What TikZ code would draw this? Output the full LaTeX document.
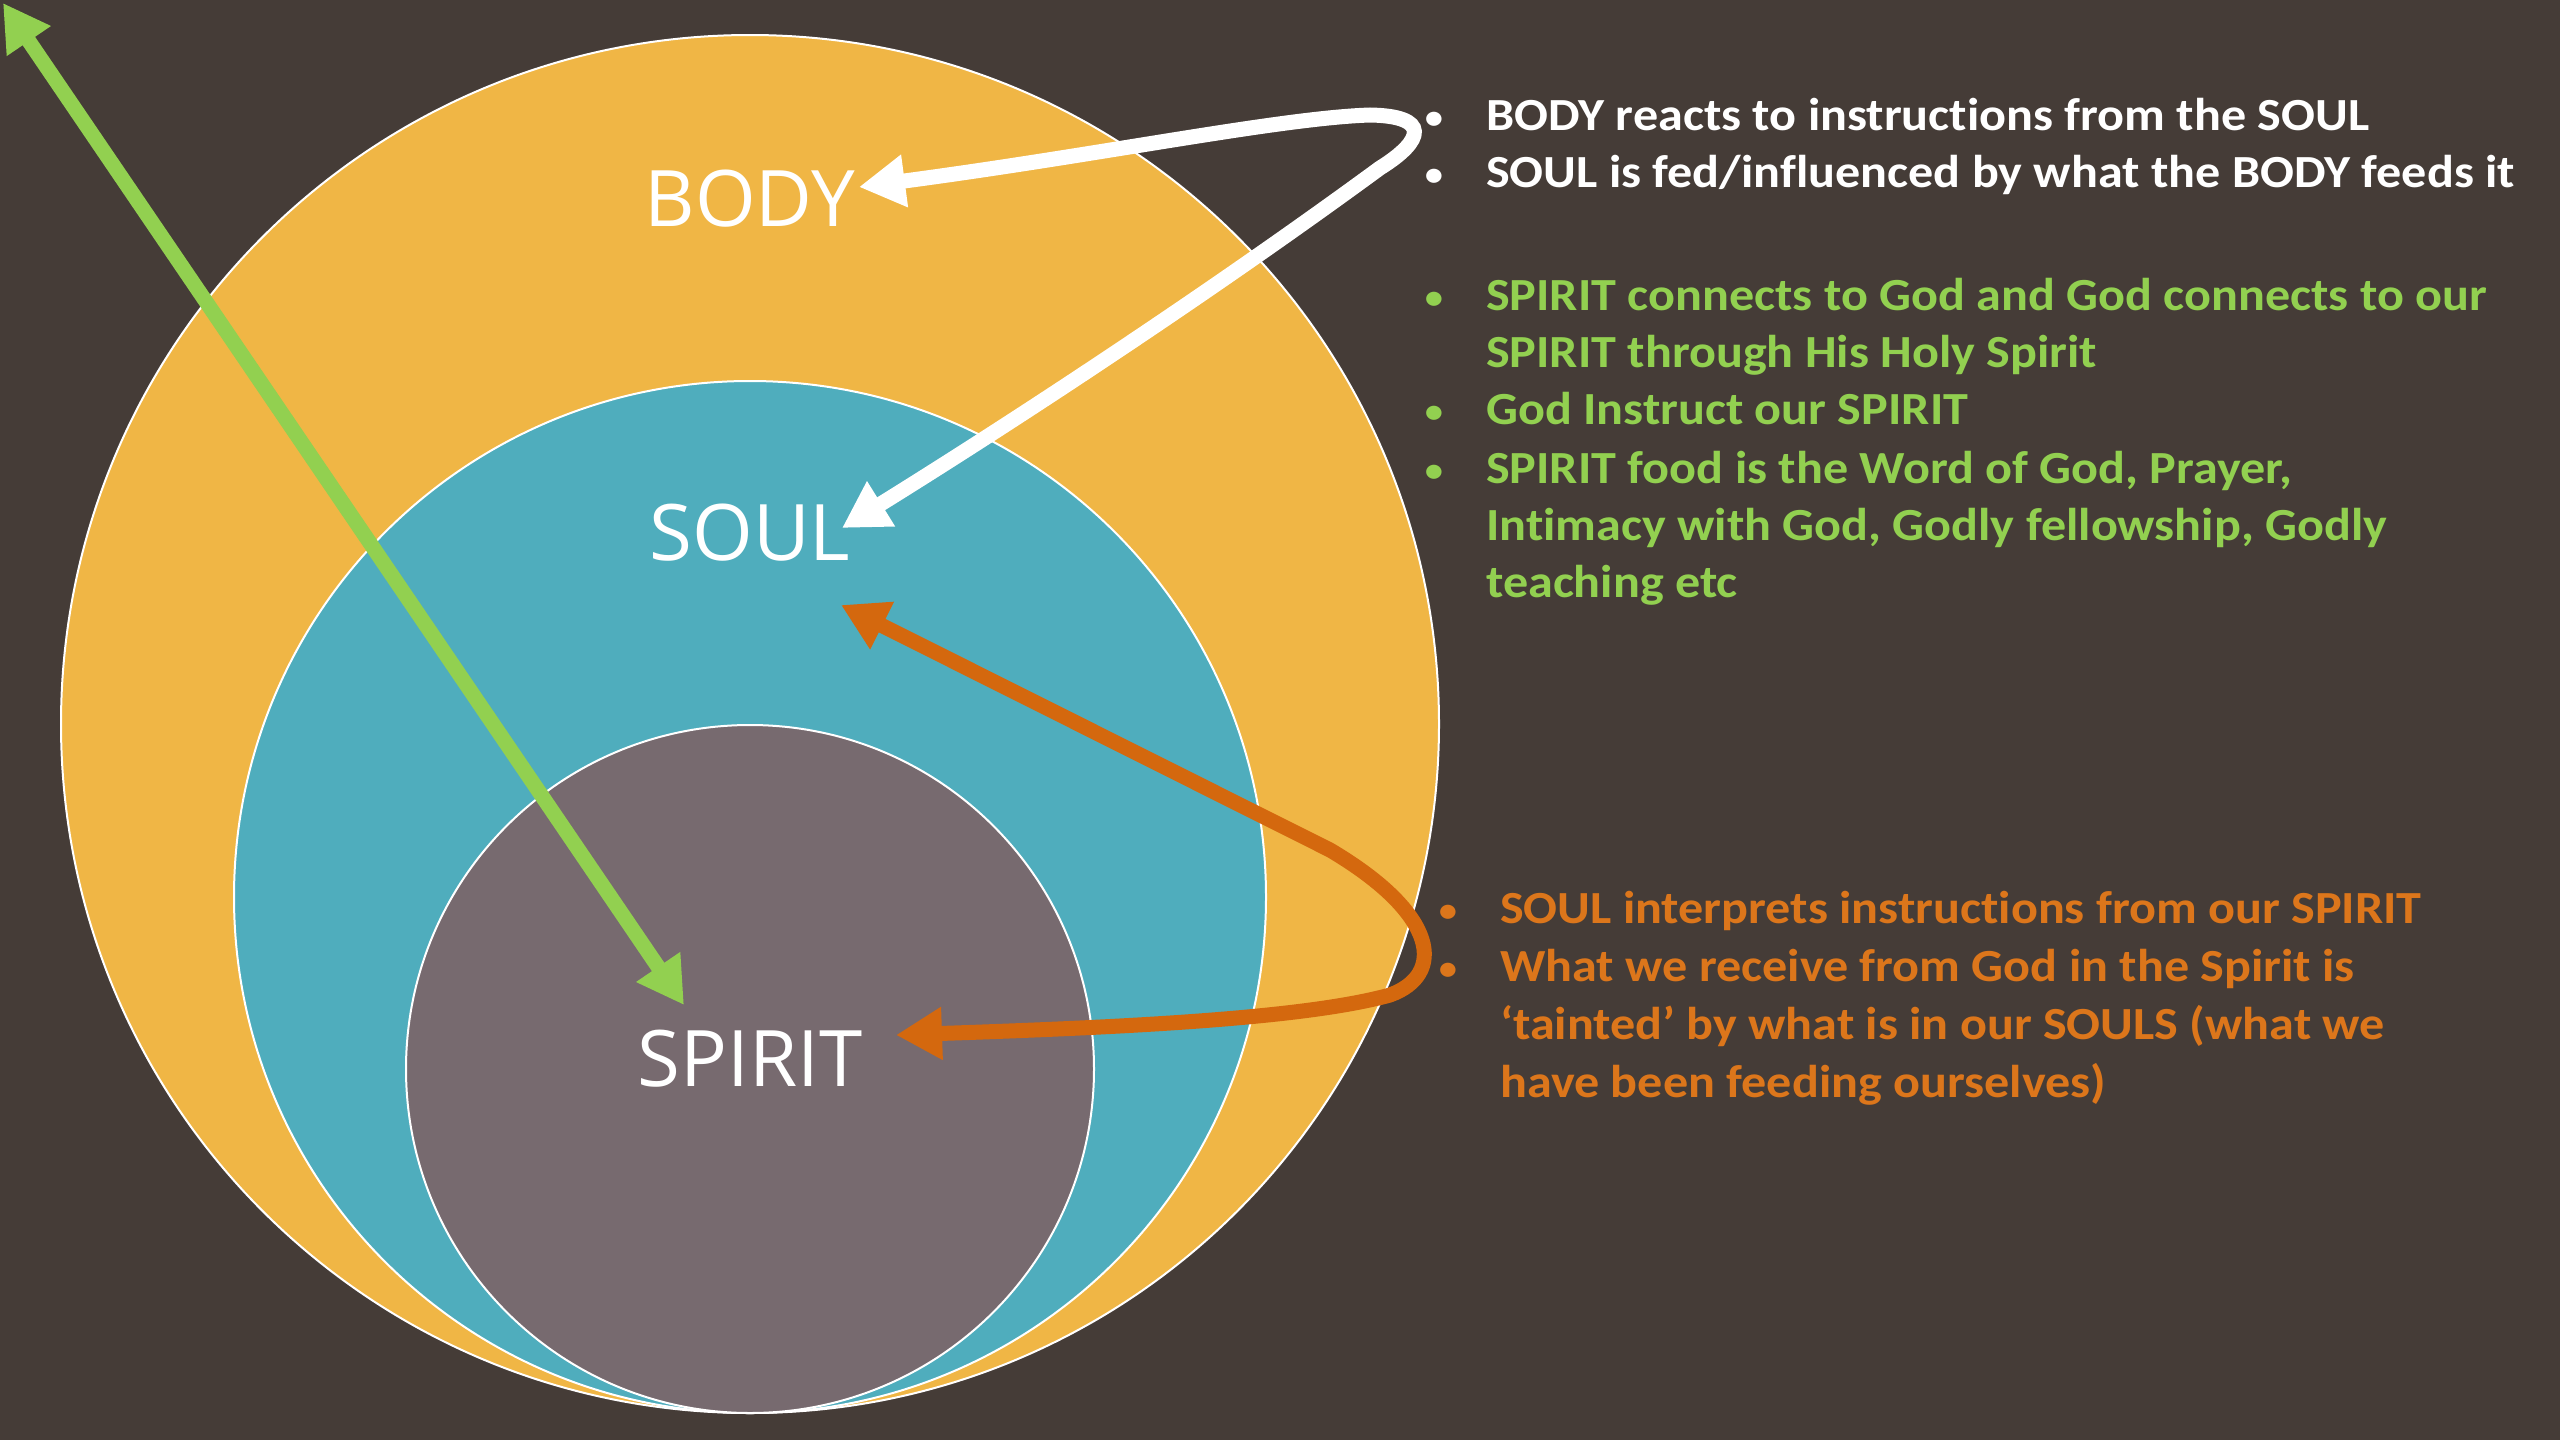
\documentclass[tikz,border=0pt]{standalone}
\usepackage{fontspec}
\setmainfont{Carlito}[FakeStretch=1.09, Ligatures=NoCommon]
\newfontfamily\labelfont{Open Sans}
\usetikzlibrary{arrows.meta}
\definecolor{bg}{HTML}{453C37}
\definecolor{outerc}{HTML}{F0B645}
\definecolor{midc}{HTML}{4FADBD}
\definecolor{innerc}{HTML}{776A6F}
\definecolor{greenc}{HTML}{92D050}
\definecolor{orangearr}{HTML}{D4680E}
\definecolor{orangetxt}{HTML}{DC761B}
\tikzset{
  ring/.style={draw=white, line width=2pt},
  biglabel/.style={text=white, font=\labelfont\fontsize{78}{84}\selectfont, inner sep=0pt},
  txt/.style={anchor=base west, inner sep=0pt, font=\bfseries\fontsize{46}{57.5}\selectfont},
  bul/.style={anchor=base, inner sep=0pt, font=\fontsize{40}{57.5}\selectfont},
  arr/.style={line width=15pt, >={Triangle[length=46pt,width=50pt]}, <->},
}
\begin{document}
\begin{tikzpicture}[x=1pt,y=-1pt]
\fill[bg] (0,0) rectangle (2560,1440);
\useasboundingbox (0,0) rectangle (2560,1440);
% circles
\filldraw[fill=outerc, ring] (750,724) circle[radius=689pt];
\filldraw[fill=midc, ring] (750,897) circle[radius=516pt];
\filldraw[fill=innerc, ring] (750,1069) circle[radius=344pt];
% labels
\node[biglabel] (body) at (750,199) {BODY};
\node[biglabel] (soul) at (750,533) {SOUL};
\node[biglabel] (spirit) at (750,1059) {SPIRIT};
% arrow end points
\coordinate (bodytip) at (859,187);
\coordinate (soultipw) at (842,528);
\coordinate (soultipo) at (841,605);
\coordinate (spirittip) at (896,1035);
\coordinate (godtip) at (3,3);
\coordinate (spirittipg) at (684,1005);
% green arrow
\draw[arr, greenc] (godtip) -- (spirittipg);
% white arrow
\draw[arr, white] (bodytip) .. controls (1100,155) and (1280,118) .. (1370,115)
  .. controls (1430,116) and (1425,140) .. (1380,168)
  .. controls (1200,300) and (1000,430) .. (soultipw);
% orange arrow
\draw[arr, orangearr] (spirittip) .. controls (1100,1028) and (1300,1020) .. (1390,995)
  .. controls (1445,975) and (1440,915) .. (1330,850) -- (soultipo);
% white text
\begin{scope}[every node/.append style={text=white}]
\node[bul] (wb1) at (1434,130) {•};
\node[txt] (w1) at (1486,130) {BODY reacts to instructions from the SOUL};
\node[bul] (wb2) at (1434,187) {•};
\node[txt] (w2) at (1486,187) {SOUL is fed/influenced by what the BODY feeds it};
\end{scope}
% green text
\begin{scope}[every node/.append style={text=greenc}]
\node[bul] (gb1) at (1434,310) {•};
\node[txt] (g1) at (1486,310) {SPIRIT connects to God and God connects to our};
\node[txt] (g2) at (1486,367) {SPIRIT through His Holy Spirit};
\node[bul] (gb2) at (1434,424) {•};
\node[txt] (g3) at (1486,424) {God Instruct our SPIRIT};
\node[bul] (gb3) at (1434,483) {•};
\node[txt] (g4) at (1486,483) {SPIRIT food is the Word of God, Prayer,};
\node[txt] (g5) at (1486,540) {Intimacy with God, Godly fellowship, Godly};
\node[txt] (g6) at (1486,597) {teaching etc};
\end{scope}
% orange text
\begin{scope}[every node/.append style={text=orangetxt}]
\node[bul] (ob1) at (1448,923) {•};
\node[txt] (o1) at (1500,923) {SOUL interprets instructions from our SPIRIT};
\node[bul] (ob2) at (1448,981) {•};
\node[txt] (o2) at (1500,981) {What we receive from God in the Spirit is};
\node[txt] (o3) at (1500,1039) {‘tainted’ by what is in our SOULS (what we};
\node[txt] (o4) at (1500,1097) {have been feeding ourselves)};
\end{scope}
\end{tikzpicture}
\end{document}
